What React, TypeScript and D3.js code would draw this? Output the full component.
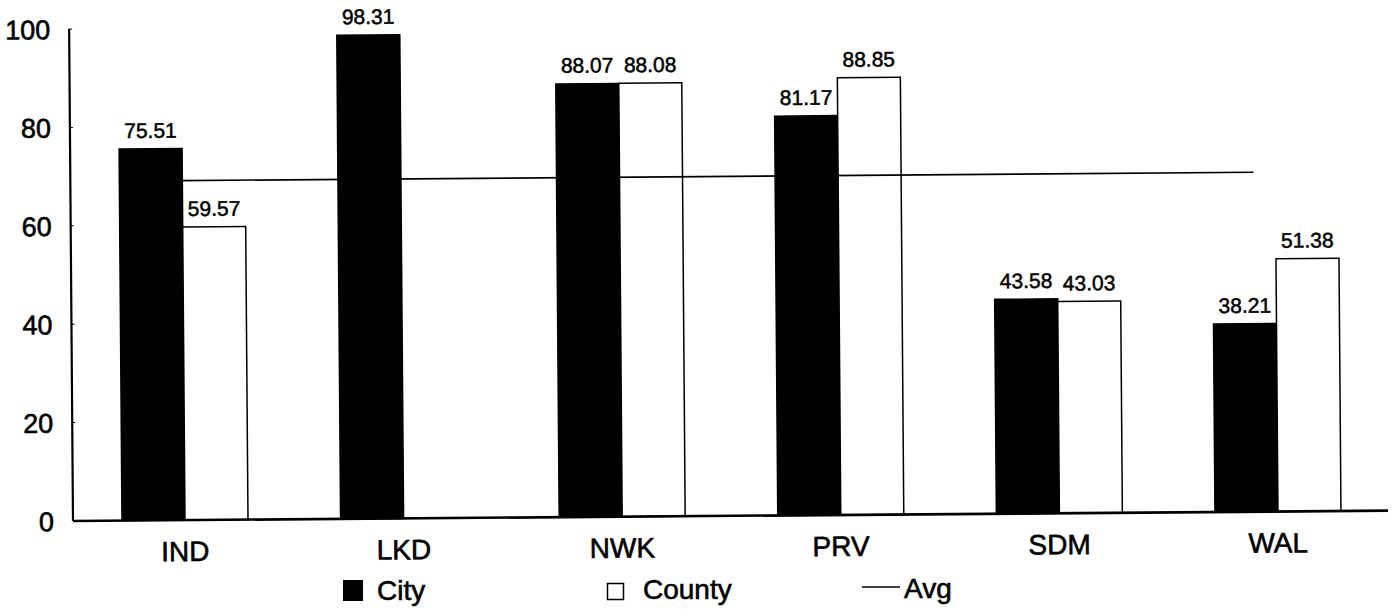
import React from "react";
import * as d3 from "d3";

const categories = ["IND", "LKD", "NWK", "PRV", "SDM", "WAL"];
const series = ["City", "County"];
const cityValues: (number | null)[] = [75.51, 98.31, 88.07, 81.17, 43.58, 38.21];
const countyValues: (number | null)[] = [59.57, null, 88.08, 88.85, 43.03, 51.38];
const avgValue = 69;
const yTicks = [0, 20, 40, 60, 80, 100];

const W = 1395;
const H = 611;
const FONT = "'Liberation Sans', Arial, Helvetica, sans-serif";

export default function App() {
  const axisX = 73;
  const base = 521;
  const x = d3.scaleBand<string>().domain(categories).range([75.7, 1387.3]).padding(0);
  const inner = d3.scaleBand<string>().domain(series).range([-63, 63]).padding(0);
  const y = d3.scaleLinear().domain([0, 100]).range([base, 29]);
  const cx = (c: string) => (x(c) as number) + x.bandwidth() / 2;
  const bw = inner.bandwidth();

  const bars: { cat: string; s: string; v: number }[] = [];
  categories.forEach((c, i) => {
    const a = cityValues[i];
    const b = countyValues[i];
    if (a != null) bars.push({ cat: c, s: "City", v: a });
    if (b != null) bars.push({ cat: c, s: "County", v: b });
  });

  const avgX0 = cx(categories[0]);
  const avgX1 = cx(categories[categories.length - 1]) - 0.1 * x.step();
  const textStroke = { stroke: "#000", strokeWidth: 0.6 };

  return (
    <div style={{ position: "absolute", left: 0, top: 0 }}>
      <svg width={W} height={H} style={{ display: "block", background: "#fff" }} fontFamily={FONT}>
        <rect width={W} height={H} fill="#fff" />
        <g transform={`rotate(-0.45 ${axisX} ${base})`}>
          {bars.map((d) => {
            const bx = cx(d.cat) + (inner(d.s) as number);
            const by = y(d.v);
            return (
              <g key={d.cat + d.s}>
                <rect
                  x={bx}
                  y={by}
                  width={bw}
                  height={base - by}
                  fill={d.s === "City" ? "#000" : "#fff"}
                  stroke="#000"
                  strokeWidth={1.5}
                />
                <text
                  x={bx + bw / 2}
                  y={by - 11}
                  textAnchor="middle"
                  fontSize={21}
                  fill="#000"
                  {...textStroke}
                  strokeWidth={0.5}
                >
                  {d.v.toFixed(2)}
                </text>
              </g>
            );
          })}
          <line x1={avgX0} x2={avgX1} y1={y(avgValue)} y2={y(avgValue)} stroke="#000" strokeWidth={1.6} />
          <line x1={axisX} x2={axisX} y1={y(100)} y2={base} stroke="#000" strokeWidth={2.2} />
          <line x1={axisX} x2={1388} y1={base} y2={base} stroke="#000" strokeWidth={2.6} />
          {yTicks.map((t) => (
            <g key={t}>
              <line x1={axisX} x2={axisX + 3} y1={y(t)} y2={y(t)} stroke="#000" strokeWidth={1} />
              <text x={axisX - 19} y={y(t) + 10} textAnchor="end" fontSize={27} fill="#000" {...textStroke}>
                {t}
              </text>
            </g>
          ))}
          {categories.map((c) => (
            <text key={c} x={cx(c)} y={562} textAnchor="middle" fontSize={28} fill="#000" {...textStroke}>
              {c}
            </text>
          ))}
        </g>
        <g>
          <rect x={343} y={580} width={20} height={21} fill="#000" />
          <text x={377} y={600} fontSize={28} fill="#000" {...textStroke}>City</text>
          <rect x={607.5} y={583.5} width={16} height={16} fill="#fff" stroke="#000" strokeWidth={1.5} />
          <text x={643} y={599} fontSize={28} fill="#000" {...textStroke}>County</text>
          <line x1={862} x2={900} y1={587} y2={587} stroke="#000" strokeWidth={1.6} />
          <text x={904} y={598} fontSize={28} fill="#000" {...textStroke}>Avg</text>
        </g>
      </svg>
    </div>
  );
}
